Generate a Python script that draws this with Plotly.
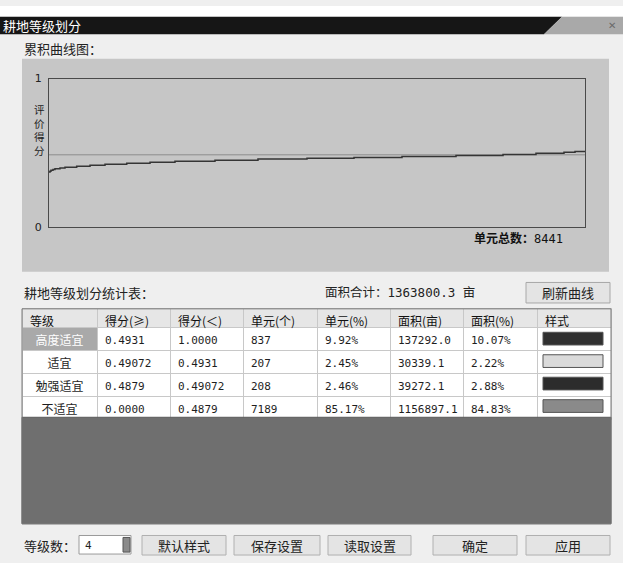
import plotly.graph_objects as go

# ---------------- data ----------------
total_units = 8441
curve_rank = [0, 16, 31, 63, 94, 173, 252, 436, 646, 882, 1224, 1591, 1984, 2614,
              3291, 4063, 4803, 5559, 6410, 7150, 7669, 8110, 8284, 8441]
curve_score = [0.372, 0.378, 0.384, 0.390, 0.394, 0.400, 0.405, 0.411, 0.418, 0.425,
               0.431, 0.438, 0.444, 0.451, 0.459, 0.465, 0.470, 0.477, 0.484, 0.490,
               0.498, 0.505, 0.511, 0.516]
ref_line_score = 0.4879

headers = ["等级", "得分(≥)", "得分(＜)", "单元(个)", "单元(%)", "面积(亩)", "面积(%)", "样式"]
grades = ["高度适宜", "适宜", "勉强适宜", "不适宜"]
score_lo = ["0.4931", "0.49072", "0.4879", "0.0000"]
score_hi = ["1.0000", "0.4931", "0.49072", "0.4879"]
units = ["837", "207", "208", "7189"]
unit_pct = ["9.92%", "2.45%", "2.46%", "85.17%"]
area = ["137292.0", "30339.1", "39272.1", "1156897.1"]
area_pct = ["10.07%", "2.22%", "2.88%", "84.83%"]
area_total = "1363800.3"
level_count = "4"

swatch_colors = ["#303030", "#dadada", "#2c2c2c", "#8a8a8a"]

# ---------------- helpers ----------------
W, H = 623, 563
def X(px):
    return px / W
def Y(py):
    return 1 - py / H

CJK = "Noto Sans CJK SC"
MONO = "DejaVu Sans Mono, Noto Sans CJK SC"

fig = go.Figure()

# reference line
fig.add_trace(go.Scatter(x=[0, total_units], y=[ref_line_score, ref_line_score],
                         mode="lines", line=dict(color="#8c8c8c", width=1),
                         hoverinfo="skip", showlegend=False))
# cumulative curve
fig.add_trace(go.Scatter(x=curve_rank, y=curve_score, mode="lines",
                         line=dict(color="#353535", width=1.5, shape="hv"),
                         showlegend=False))

# table
n = len(grades)
fills = [["#a9a9a9"] + ["white"] * (n - 1)] + [["white"] * n for _ in range(7)]
fcolors = [["white"] + ["#1e1e1e"] * (n - 1)] + [["#1e1e1e"] * n for _ in range(7)]
fig.add_trace(go.Table(
    domain=dict(x=[X(22), X(611)], y=[Y(424), Y(310)]),
    columnwidth=[75, 73, 73, 74, 73, 73, 74, 74],
    header=dict(values=headers, fill_color="#e6e6e6", line=dict(color="#c8c8c8", width=1),
                align="left", height=19,
                font=dict(family=CJK, size=12, color="#111")),
    cells=dict(values=[grades, score_lo, score_hi, units, unit_pct, area, area_pct, [""] * n],
               fill=dict(color=fills), line=dict(color="#c8c8c8", width=1),
               align=["center", "left", "left", "left", "left", "left", "left", "left"],
               height=23,
               font=dict(family=[CJK, MONO, MONO, MONO, MONO, MONO, MONO, MONO],
                         size=[12, 11, 11, 11, 11, 11, 11, 11], color=fcolors)),
))

shapes = []
def rect(x0, y0, x1, y1, fill, line=None, lw=1, layer="below"):
    shapes.append(dict(type="rect", xref="paper", yref="paper",
                       x0=X(x0), x1=X(x1), y0=Y(y1), y1=Y(y0),
                       fillcolor=fill, line=dict(color=line or fill, width=lw if line else 0),
                       layer=layer))

# top white strip + title bar
rect(0, 0, 623, 11, "white")
shapes.append(dict(type="path", xref="paper", yref="paper", layer="below",
                   path=f"M {X(0)},{Y(11)} L {X(562)},{Y(11)} L {X(544)},{Y(29)} L {X(0)},{Y(29)} Z",
                   fillcolor="#161616", line=dict(width=0)))
shapes.append(dict(type="path", xref="paper", yref="paper", layer="below",
                   path=f"M {X(562)},{Y(11)} L {X(623)},{Y(11)} L {X(623)},{Y(29)} L {X(544)},{Y(29)} Z",
                   fillcolor="#a9a9a9", line=dict(width=0)))
# chart panel
rect(22, 54, 609, 272, "#c6c6c6")
# refresh button
rect(526, 283, 610, 304, "#e4e4e4", "#a8a8a8")
# table dark area
rect(22, 421, 611, 530, "#6f6f6f", "#5a5a5a", 1, "above")
# table outer border
rect(22, 310, 611, 530, "rgba(0,0,0,0)", "#7a7a7a", 1, "above")
# swatches
row_top = 329
for i, c in enumerate(swatch_colors):
    cy = row_top + 23 * i + 11.5
    rect(543, cy - 6.5, 603, cy + 6.5, c, "#555555", 1, "above")
# bottom controls
rect(79, 542, 131, 561, "white", "#9a9a9a")
rect(123, 544, 130, 559, "#8a8a8a", "#555555")
buttons = [(142, 226, "默认样式"), (234, 320, "保存设置"), (328, 411, "读取设置"),
           (433, 517, "确定"), (526, 610, "应用")]
for x0, x1, _ in buttons:
    rect(x0, 542, x1, 562, "#e4e4e4", "#b0b0b0")

ann = []
def text(px, py, s, size=13, color="#222", family=CJK, xanchor="left"):
    ann.append(dict(x=X(px), y=Y(py), xref="paper", yref="paper", text=s, showarrow=False,
                    xanchor=xanchor, yanchor="middle",
                    font=dict(family=family, size=size, color=color)))

text(1, 20, "耕地等级划分", 13, "white")
text(612, 20, "✕", 10, "#6a6a6a", "DejaVu Sans", "center")
text(22, 44, "累积曲线图：", 13)
text(39, 127, "<br>".join("评价得分"), 10.5, "#222", CJK, "center")
text(565, 238, f"<b>单元总数：</b>{total_units}", 12, "#111", MONO, "right")
text(22, 293, "耕地等级划分统计表：", 13)
text(323, 293, f"面积合计：{area_total} 亩", 12.5, "#222", MONO)
text(568, 293, "刷新曲线", 13, "#222", CJK, "center")
text(22, 552, "等级数：", 13)
text(83, 552, level_count, 11, "#222", MONO)
for x0, x1, s in buttons:
    text((x0 + x1) / 2, 552, s, 13, "#222", CJK, "center")

fig.update_layout(
    width=W, height=H, margin=dict(l=0, r=0, t=0, b=0),
    paper_bgcolor="#efefef", plot_bgcolor="#c6c6c6",
    shapes=shapes, annotations=ann,
    xaxis=dict(domain=[X(49), X(585)], range=[0, total_units], showgrid=False,
               zeroline=False, showticklabels=False, ticks="", showline=True,
               mirror=True, linecolor="#4a4a4a", linewidth=1, fixedrange=True),
    yaxis=dict(domain=[Y(226.7), Y(74.3)], range=[0, 1], showgrid=False, zeroline=False,
               tickvals=[0, 1], ticktext=["0", "1"], ticks="", showline=True, mirror=True,
               linecolor="#4a4a4a", linewidth=1, ticklabelstandoff=4,
               tickfont=dict(family="DejaVu Sans", size=11, color="#222"), fixedrange=True),
    showlegend=False,
)

fig.write_html("out.html", config={"displayModeBar": False},
               post_script="document.body.style.margin='0px';document.body.style.padding='0px';")
